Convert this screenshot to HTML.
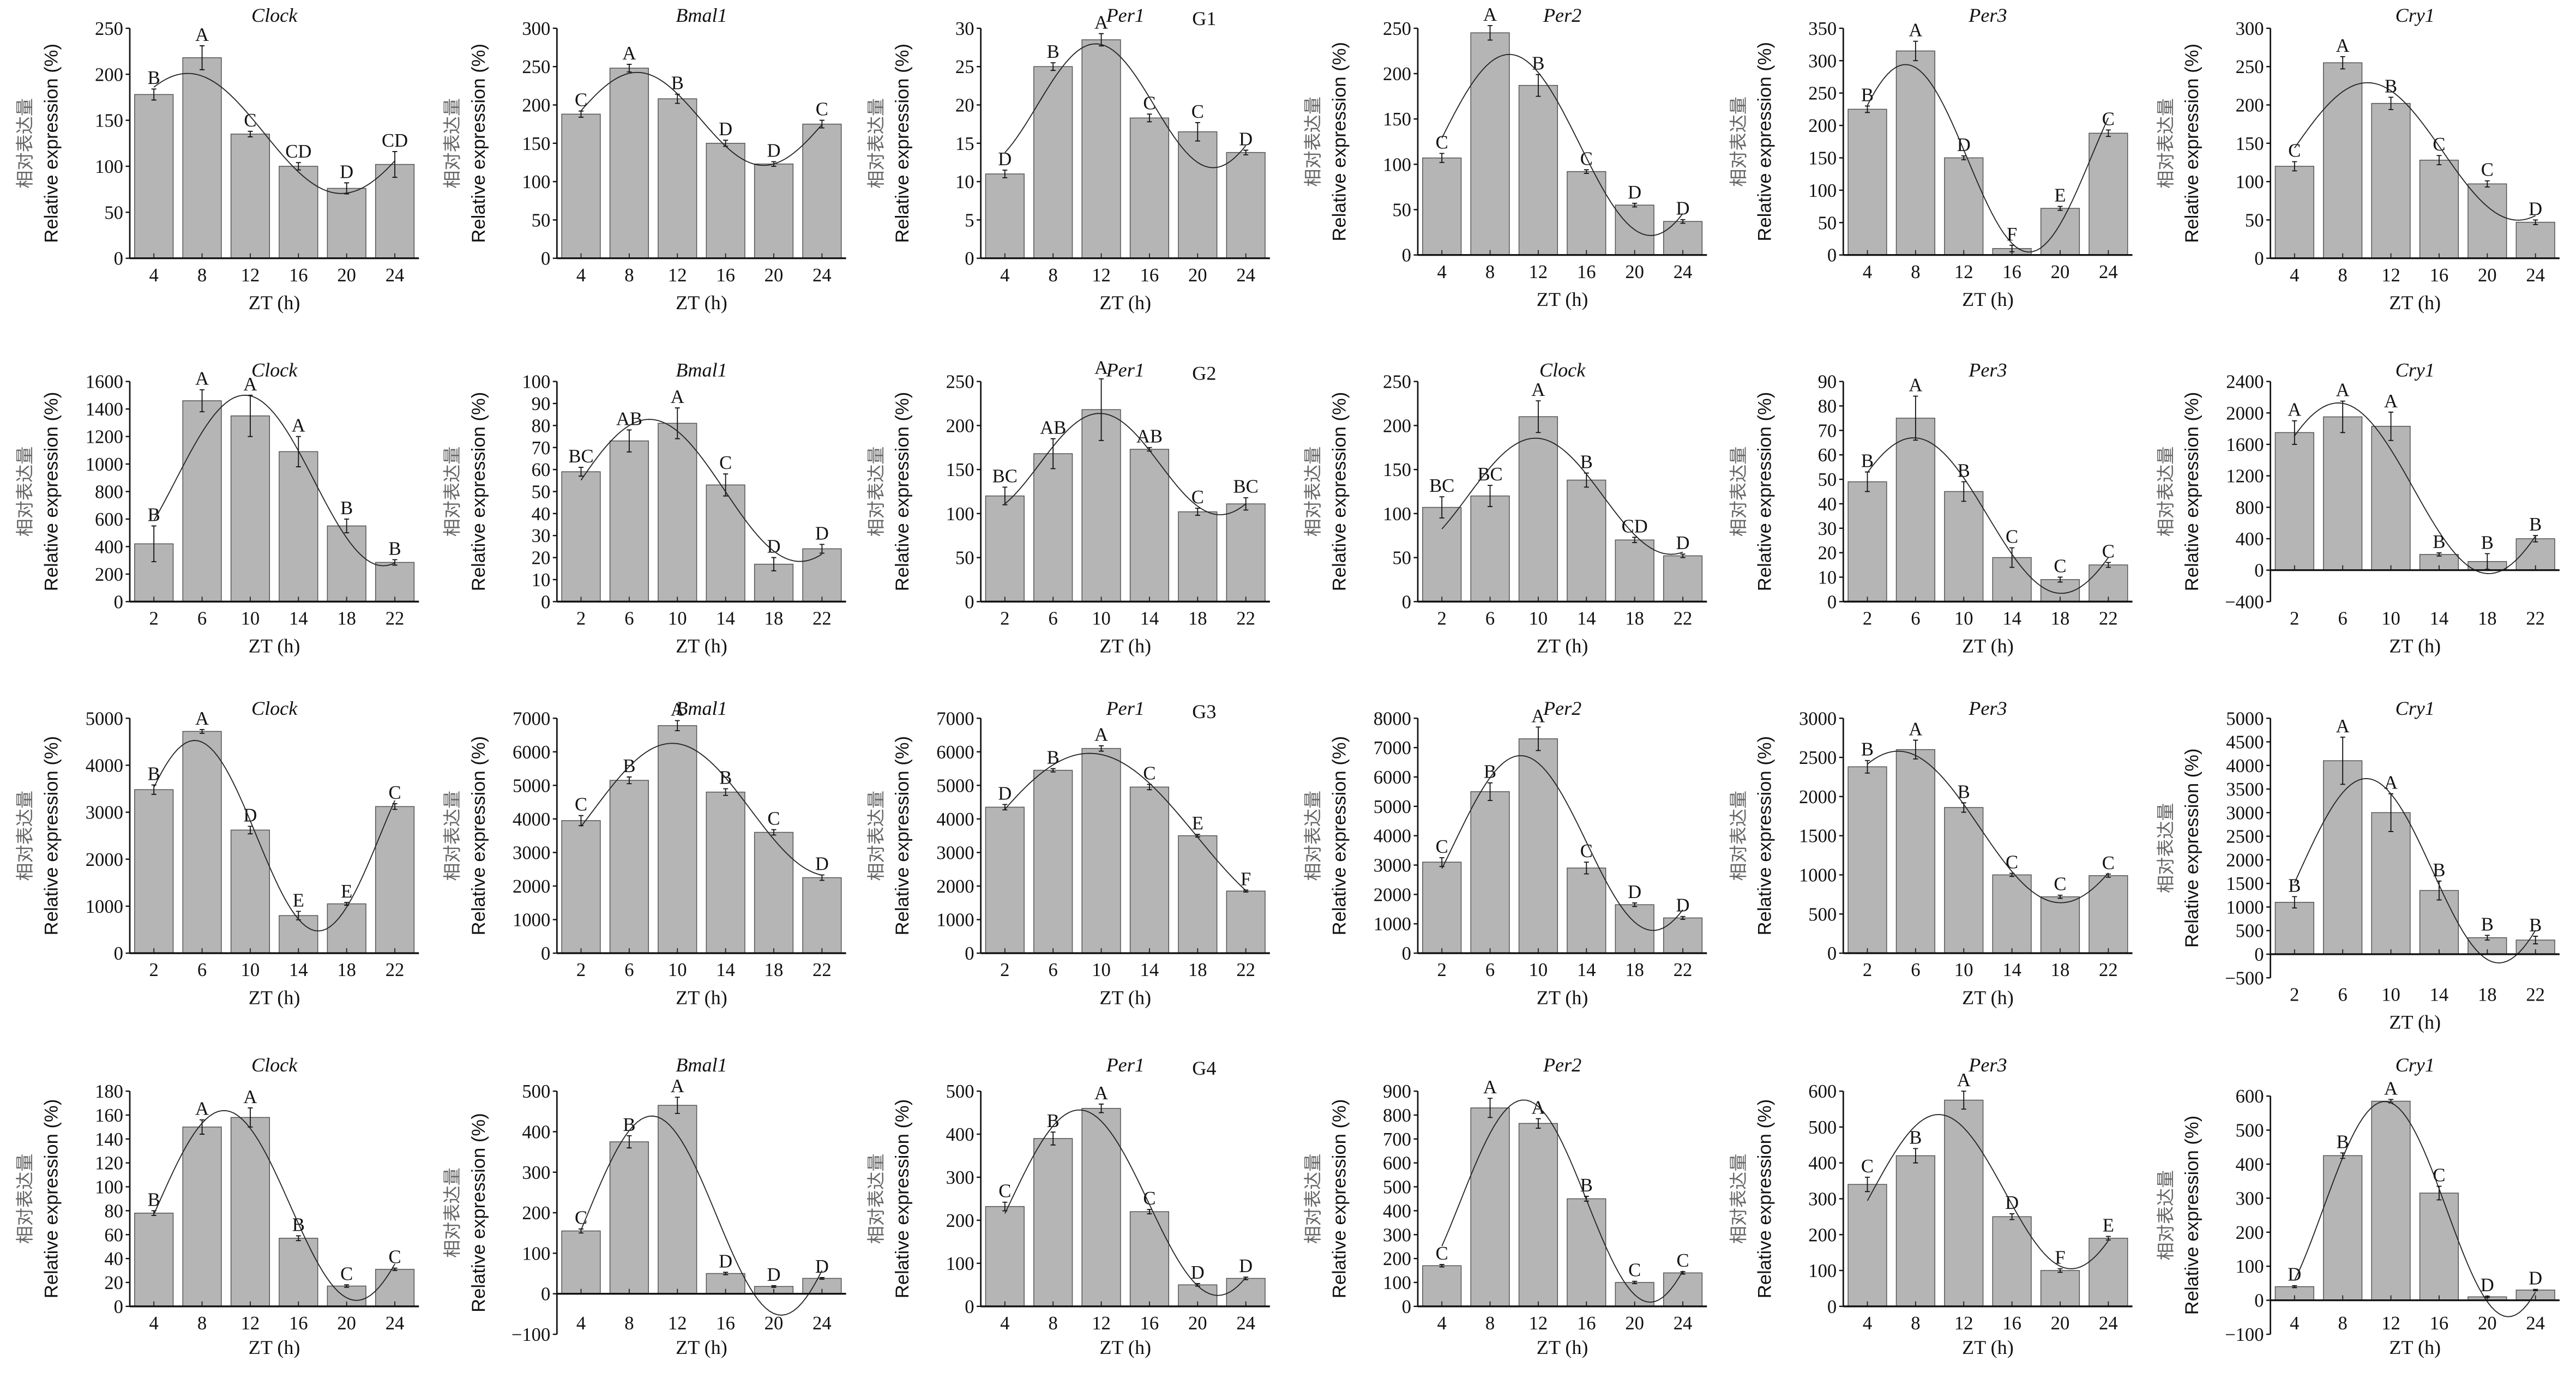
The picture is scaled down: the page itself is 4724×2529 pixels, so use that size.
<!DOCTYPE html>
<html><head><meta charset="utf-8">
<style>
html,body{margin:0;padding:0;background:#fff;}
svg{display:block;}
.t{font-family:"Liberation Serif",serif;fill:#111;}
</style></head>
<body>
<svg id="s" width="4724" height="2529" viewBox="0 0 1568 839" xmlns="http://www.w3.org/2000/svg"></svg>
<script>
var cols=[79,339,597,863,1122,1382];
var W=176;
var titleY=[13,229,435,652];
var P=[
[0,0,"Clock",0,250,50,17,157,[178,218,135,100,76,102],[6,13,3,4,6,14],["B","A","C","CD","D","CD"]],
[0,1,"Bmal1",0,300,50,17,157,[188,248,208,150,123,175],[4,5,6,4,3,5],["C","A","B","D","D","C"]],
[0,2,"Per1",0,30,5,17,157,[11,25,28.5,18.3,16.5,13.8],[0.5,0.5,0.8,0.5,1.2,0.3],["D","B","A","C","C","D"],"G1"],
[0,3,"Per2",0,250,50,17,155,[107,245,187,92,55,37],[5,8,12,2,2,2],["C","A","B","C","D","D"]],
[0,4,"Per3",0,350,50,17,155,[225,315,150,10,72,188],[5,15,3,5,3,5],["B","A","D","F","E","C"]],
[0,5,"Cry1",0,300,50,17,157,[120,255,202,128,97,47],[6,8,8,6,4,3],["C","A","B","C","C","D"]],
[1,0,"Clock",0,1600,200,232,366,[420,1460,1350,1090,550,285],[130,80,150,110,50,20],["B","A","A","A","B","B"]],
[1,1,"Bmal1",0,100,10,232,366,[59,73,81,53,17,24],[2,5,7,5,3,2],["BC","AB","A","C","D","D"]],
[1,2,"Per1",0,250,50,232,366,[120,168,218,173,102,111],[10,17,35,2,4,7],["BC","AB","A","AB","C","BC"],"G2"],
[1,3,"Clock",0,250,50,232,366,[107,120,210,138,70,52],[12,12,18,8,3,2],["BC","BC","A","B","CD","D"]],
[1,4,"Per3",0,90,10,232,366,[49,75,45,18,9,15],[4,9,4,4,1,1],["B","A","B","C","C","C"]],
[1,5,"Cry1",-400,2400,400,232,366,[1750,1950,1830,200,110,400],[150,200,180,20,100,40],["A","A","A","B","B","B"]],
[2,0,"Clock",0,5000,1000,437,580,[3480,4720,2620,800,1050,3120],[100,40,80,90,30,60],["B","A","D","E","E","C"]],
[2,1,"Bmal1",0,7000,1000,437,580,[3950,5150,6780,4800,3600,2250],[150,100,150,100,80,80],["C","B","A","B","C","D"]],
[2,2,"Per1",0,7000,1000,437,580,[4350,5450,6100,4950,3500,1850],[80,50,80,80,40,30],["D","B","A","C","E","F"],"G3"],
[2,3,"Per2",0,8000,1000,437,580,[3100,5500,7300,2900,1650,1200],[150,300,400,200,60,50],["C","B","A","C","D","D"]],
[2,4,"Per3",0,3000,500,437,580,[2380,2600,1860,1000,720,990],[80,120,60,20,20,20],["B","A","B","C","C","C"]],
[2,5,"Cry1",-500,5000,500,437,595,[1100,4100,3000,1350,350,300],[120,500,400,200,50,80],["B","A","A","B","B","B"]],
[3,0,"Clock",0,180,20,664,795,[78,150,158,57,17,31],[2,6,8,2,1,1],["B","A","A","B","C","C"]],
[3,1,"Bmal1",-100,500,100,664,812,[155,375,465,50,18,38],[5,15,20,3,2,2],["C","B","A","D","D","D"]],
[3,2,"Per1",0,500,100,664,795,[232,390,460,220,50,65],[10,15,10,5,3,3],["C","B","A","C","D","D"],"G4"],
[3,3,"Per2",0,900,100,664,795,[170,830,765,450,100,140],[5,40,20,10,5,5],["C","A","A","B","C","C"]],
[3,4,"Per3",0,600,100,664,795,[340,420,575,250,100,190],[20,20,25,8,5,5],["C","B","A","D","F","E"]],
[3,5,"Cry1",-100,600,100,667,812,[40,425,585,315,10,30],[3,8,5,20,2,2],["D","B","A","C","D","D"]]
];
var out=[];
function T(x,y,s,txt,extra){out.push('<text class="t" x="'+x+'" y="'+y+'" font-size="'+s+'" '+(extra||'')+'>'+txt+'</text>');}
function fit(xs,ys){
 var best=null;
 for(var per=14;per<=48;per+=0.5){
  var w=2*Math.PI/per,A=[[0,0,0],[0,0,0],[0,0,0]],b=[0,0,0];
  for(var i=0;i<xs.length;i++){var f=[1,Math.cos(w*xs[i]),Math.sin(w*xs[i])];
   for(var r=0;r<3;r++){b[r]+=f[r]*ys[i];for(var c=0;c<3;c++)A[r][c]+=f[r]*f[c];}}
  var M=A.map(function(r,i){return r.concat([b[i]]);});
  for(var k=0;k<3;k++){var p=k;for(var r=k+1;r<3;r++)if(Math.abs(M[r][k])>Math.abs(M[p][k]))p=r;var tmp=M[k];M[k]=M[p];M[p]=tmp;
   for(var r=0;r<3;r++)if(r!=k){var f2=M[r][k]/M[k][k];for(var c=k;c<4;c++)M[r][c]-=f2*M[k][c];}}
  var co=[M[0][3]/M[0][0],M[1][3]/M[1][1],M[2][3]/M[2][2]];
  var e=0;for(var i=0;i<xs.length;i++){var d=co[0]+co[1]*Math.cos(w*xs[i])+co[2]*Math.sin(w*xs[i])-ys[i];e+=d*d;}
  if(!best||e<best.e)best={e:e,w:w,co:co};
 }
 return function(x){return best.co[0]+best.co[1]*Math.cos(best.w*x)+best.co[2]*Math.sin(best.w*x);};
}
P.forEach(function(p){
 var row=p[0],ax=cols[p[1]],mn=p[3],mx=p[4],st=p[5],top=p[6],bot=p[7],v=p[8],er=p[9],lt=p[10];
 var Y=function(val){return bot-(val-mn)/(mx-mn)*(bot-top);};
 var y0=Y(0);
 var sp=W/6,bw=sp*0.8;
 var zts=(row==0||row==3)?[4,8,12,16,20,24]:[2,6,10,14,18,22];
 for(var i=0;i<6;i++){
  var cx=ax+sp*(i+0.5),yv=Y(v[i]);
  out.push('<rect x="'+(cx-bw/2)+'" y="'+Math.min(yv,y0)+'" width="'+bw+'" height="'+Math.abs(y0-yv)+'" fill="#b5b5b5" stroke="#555" stroke-width="0.5"/>');
  out.push('<line x1="'+cx+'" y1="'+y0+'" x2="'+cx+'" y2="'+(y0-3)+'" stroke="#222" stroke-width="0.6"/>');
  var ya=Y(v[i]+er[i]),yb=Y(v[i]-er[i]);
  out.push('<path d="M'+cx+' '+ya+'V'+yb+'M'+(cx-1.5)+' '+ya+'h3M'+(cx-1.5)+' '+yb+'h3" stroke="#111" stroke-width="0.6" fill="none"/>');
  T(cx,Math.min(ya,yv)-3,11.5,lt[i],'text-anchor="middle"');
 }
 var xs=zts.slice();
 var f=fit(xs,v),d='';
 for(var k=0;k<=60;k++){var z=zts[0]+(zts[5]-zts[0])*k/60;var px=ax+sp*0.5+(z-zts[0])/4*sp;d+=(k?'L':'M')+px.toFixed(2)+' '+Y(f(z)).toFixed(2);}
 out.push('<path d="'+d+'" stroke="#222" stroke-width="0.6" fill="none"/>');
 out.push('<line x1="'+ax+'" y1="'+top+'" x2="'+ax+'" y2="'+bot+'" stroke="#111" stroke-width="0.9"/>');
 out.push('<line x1="'+ax+'" y1="'+y0+'" x2="'+(ax+W)+'" y2="'+y0+'" stroke="#111" stroke-width="1.1"/>');
 for(var t=mn;t<=mx+1e-9;t+=st){var yy=Y(t);
  out.push('<line x1="'+(ax-2.5)+'" y1="'+yy+'" x2="'+ax+'" y2="'+yy+'" stroke="#111" stroke-width="0.8"/>');
  T(ax-4,yy+4,11.5,(t<0?'\u2212'+(-t):t),'text-anchor="end"');}
 var ly=(row==3)?809:bot+14, zy=(row==3)?824:bot+31;
 for(var i=0;i<6;i++)T(ax+sp*(i+0.5),ly,11.5,zts[i],'text-anchor="middle"');
 T(ax+W/2,zy,12,'ZT (h)','text-anchor="middle"');
 T(ax+W/2,titleY[row],12,p[2],'text-anchor="middle" font-style="italic"');
 if(p[11])T(ax+W-40,titleY[row]+2,12,p[11],'text-anchor="middle"');
 var my=(top+bot)/2;
 out.push('<text x="'+(ax-60)+'" y="'+my+'" font-size="11" fill="#666" font-family="\'Noto Sans CJK SC\',sans-serif" text-anchor="middle" transform="rotate(-90 '+(ax-60)+' '+my+')">相对表达量</text>');
 out.push('<text x="'+(ax-44)+'" y="'+my+'" font-size="11.5" fill="#111" font-family="\'Liberation Sans\',sans-serif" text-anchor="middle" transform="rotate(-90 '+(ax-44)+' '+my+')">Relative expression (%)</text>');
});
document.getElementById('s').innerHTML=out.join('');
</script>
</body></html>
